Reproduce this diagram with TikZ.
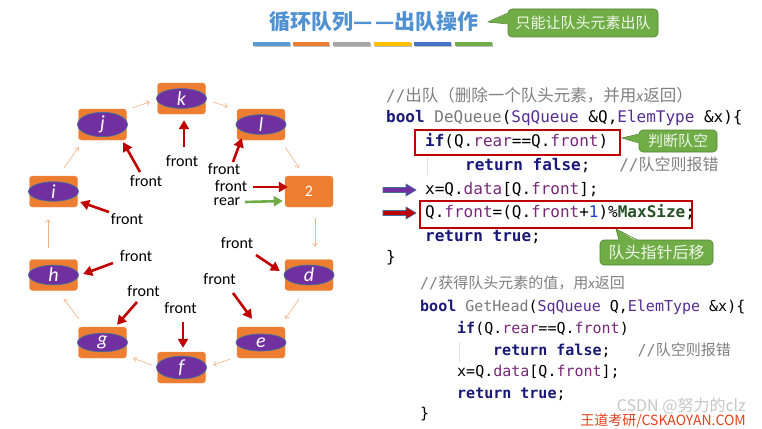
\documentclass[tikz,border=0pt]{standalone}
\usepackage{fontspec}
\setmainfont{Carlito}
\setmonofont{DejaVu Sans Mono}
\newfontfamily\cjk{Noto Sans CJK SC}
\usetikzlibrary{arrows.meta,shapes.geometric}
\definecolor{orangeq}{RGB}{237,125,49}
\definecolor{purpq}{RGB}{112,48,160}
\definecolor{ellb}{RGB}{65,113,156}
\definecolor{ringc}{RGB}{244,177,131}
\definecolor{darkred}{RGB}{192,0,0}
\definecolor{greenar}{RGB}{112,173,71}
\definecolor{titlec}{RGB}{79,145,210}
\definecolor{calf}{RGB}{112,173,71}
\definecolor{cald}{RGB}{84,130,53}
\definecolor{calt}{RGB}{242,248,236}
\definecolor{kwc}{RGB}{25,25,120}
\definecolor{fnc}{RGB}{120,120,120}
\definecolor{tyc}{RGB}{85,45,145}
\definecolor{fldc}{RGB}{120,40,120}
\definecolor{numc}{RGB}{30,60,220}
\definecolor{msc}{RGB}{40,80,40}
\definecolor{cmc}{RGB}{128,128,128}
\definecolor{wmc}{RGB}{225,65,30}
\definecolor{barA}{RGB}{91,155,213}
\definecolor{barB}{RGB}{237,125,49}
\definecolor{barC}{RGB}{165,165,165}
\definecolor{barD}{RGB}{255,192,0}
\definecolor{barE}{RGB}{68,114,196}
\definecolor{barF}{RGB}{112,173,71}
\newcommand\ckw[1]{{\color{kwc}\bfseries #1}}
\newcommand\cfn[1]{{\color{fnc}#1}}
\newcommand\cty[1]{{\color{tyc}#1}}
\newcommand\cfld[1]{{\color{fldc}#1}}
\newcommand\cnum[1]{{\color{numc}#1}}
\newcommand\cms[1]{{\color{msc}\bfseries #1}}
\begin{document}
\begin{tikzpicture}[x=1pt,y=-1pt,
  qbox/.style={fill=orangeq, draw=orangeq!85!white, rounded corners=3pt, minimum width=48pt, minimum height=31pt, inner sep=0},
  qell/.style={ellipse, fill=purpq, draw=ellb, line width=0.7pt, minimum width=50pt, minimum height=17pt, inner sep=0, text=white, font=\fontsize{20}{20}\selectfont\itshape},
  ring/.style={draw=ringc, line width=0.6pt, -{Straight Barb[length=3pt,width=5pt]}},
  farr/.style={draw=darkred, line width=2.6pt, -{Triangle[length=9pt,width=10pt]}},
  garr/.style={draw=greenar, line width=2.6pt, -{Triangle[length=9pt,width=10pt]}},
  lab/.style={font=\fontsize{16}{16}\selectfont, inner sep=0},
  code/.style={anchor=west, inner sep=0, font=\ttfamily\fontsize{16}{19}\selectfont, text height=12pt, text depth=3.5pt},
  codeb/.style={anchor=west, inner sep=0, font=\ttfamily\fontsize{15}{18}\selectfont, text height=11pt, text depth=3.5pt},
  redbox/.style={draw=darkred, line width=1.8pt, inner sep=0},
  callout/.style={fill=calf, draw=cald, line width=0.6pt, rounded corners=4pt, text=calt, inner sep=0, font=\cjk\fontsize{15}{15}\selectfont},
  guide/.style={draw=black!12, line width=0.8pt}
]
\useasboundingbox (0,0) rectangle (762,428);
\fill[white] (0,0) rectangle (762,428);

% title
\node[font=\cjk\bfseries\fontsize{21}{21}\selectfont, text=titlec] (title) at (374,22) {循环队列—\hspace{2pt}—出队操作};
\foreach \xa/\xb/\cc in {253/290/barA, 293/329/barB, 333/370/barC, 374/411/barD, 414/451/barE, 455/492/barF}{
  \fill[black!25] (\xa+1,43.5) rectangle (\xb+1,47.5);
  \fill[\cc] (\xa,42) rectangle (\xb,46);
}

% callout 1
\node[callout, minimum width=150pt, minimum height=28pt] (cA) at (583,23) {只能让队头元素出队};
\coordinate (cAtip) at (488,22);
\fill[calf] (cAtip) -- ([shift={(1.5,-10)}]cA.west) -- ([shift={(1.5,1)}]cA.west) -- cycle;
\draw[cald, line width=0.6pt] ([shift={(0,-10)}]cA.west) -- (cAtip) -- ([shift={(0,1)}]cA.west);

% queue boxes
\node[qbox] (k) at (181.5,98.5) {};  \node[qell] (ke) at (k) {k};
\node[qbox] (j) at (102.5,124.5) {}; \node[qell] (je) at (j) {j};
\node[qbox] (l) at (261,124.5) {};   \node[qell] (le) at (l) {l};
\node[qbox] (i) at (53.5,191.5) {};  \node[qell] (ie) at (i) {i};
\node[qbox, text=white, font=\fontsize{16}{16}\selectfont] (n2) at (309,191.5) {2};
\node[qbox] (h) at (53.5,275) {};    \node[qell] (he) at (h) {h};
\node[qbox] (d) at (309,275) {};     \node[qell] (de) at (d) {d};
\node[qbox] (g) at (102.5,342.5) {}; \node[qell] (ge) at (g) {g};
\node[qbox] (e) at (261,342.5) {};   \node[qell] (ee) at (e) {e};
\node[qbox] (f) at (181.5,367.5) {}; \node[qell] (fe) at (f) {f};

% ring arrows
\draw[ring] ([shift={(6,-1)}]j.north east) -- ([shift={(-7.5,3.5)}]k.west);
\draw[ring] ([shift={(7.5,3.5)}]k.east) -- ([shift={(-9,-2)}]l.north west);
\draw[ring] ([shift={(0,7)}]l.south east) -- ([shift={(-10,-8)}]n2.north);
\draw[ring] ([shift={(6,11)}]n2.south) -- ([shift={(6,-12.5)}]d.north);
\draw[ring] ([shift={(-10,8.5)}]d.south) -- ([shift={(0,-8)}]e.north east);
\draw[ring] ([shift={(-7,1)}]e.south west) -- ([shift={(7.5,-2.5)}]f.east);
\draw[ring] ([shift={(-5.5,-2.5)}]f.west) -- ([shift={(6.5,0)}]g.south east);
\draw[ring] ([shift={(0.5,-8)}]g.north west) -- ([shift={(10.5,8.5)}]h.south);
\draw[ring] ([shift={(-5.5,-11.5)}]h.north) -- ([shift={(-5.5,12)}]i.south);
\draw[ring] ([shift={(10.5,-8)}]i.north) -- ([shift={(0.5,7)}]j.south west);

% front labels and arrows
\node[lab] (fk) at (182,161) {front};
\node[lab] (fj) at (146,181) {front};
\node[lab] (fl) at (224,169) {front};
\node[lab] (f2) at (231,186) {front};
\node[lab] (rr) at (227,202) {rear};
\node[lab] (fi) at (127,219) {front};
\node[lab] (fh) at (136,256) {front};
\node[lab] (fd) at (237,243) {front};
\node[lab] (fg) at (143.5,291) {front};
\node[lab] (ff) at (180.5,308) {front};
\node[lab] (fE) at (219.5,279.5) {front};
\draw[farr] ([shift={(2,-14)}]fk.center) -- ([shift={(2.5,6)}]k.south);
\draw[farr] ([shift={(-6,-9)}]fj.center) -- ([shift={(-3.5,2)}]j.south east);
\draw[farr] ([shift={(9,-7)}]fl.center) -- ([shift={(5,-2)}]l.south west);
\draw[farr] ([shift={(22,1)}]f2.center) -- ([shift={(3,-4.5)}]n2.west);
\draw[garr] ([shift={(18,0)}]rr.center) -- ([shift={(-2,9.5)}]n2.west);
\draw[farr] ([shift={(-18,-7)}]fi.center) -- ([shift={(2.5,10.5)}]i.east);
\draw[farr] ([shift={(-23,7)}]fh.center) -- ([shift={(5.5,-1)}]h.east);
\draw[farr] ([shift={(19,12)}]fd.center) -- ([shift={(-5,-4)}]d.west);
\draw[farr] ([shift={(-6.5,11)}]fg.center) -- ([shift={(14.5,-2)}]g.north);
\draw[farr] ([shift={(2.5,14)}]ff.center) -- ([shift={(1.5,-4)}]f.north);
\draw[farr] ([shift={(13.5,13.5)}]fE.center) -- ([shift={(-9,-8)}]e.north);

% code block 1
\node[code] (c0) at (386,97) {\color{cmc}//{\cjk\fontsize{16.5}{19}\selectfont 出队（删除一个队头元素，并用}{\rmfamily\itshape x}{\cjk\fontsize{16.5}{19}\selectfont 返回）}};
\node[code] (c1) at (386,118) {\ckw{bool} \cfn{DeQueue}(\cty{SqQueue} \&Q,\cty{ElemType} \&x)\{};
\node[code] (c2) at (425,142) {\ckw{if}(Q.\cfld{rear}==Q.\cfld{front})};
\node[code] (c3) at (465,166) {\ckw{return} \ckw{false};\ \ \ {\color{cmc}//{\cjk 队空则报错}}};
\node[code] (c4) at (425,190) {x=Q.\cfld{data}[Q.\cfld{front}];};
\node[code] (c5) at (425,213) {Q.\cfld{front}=(Q.\cfld{front}+\cnum{1})\%\cms{MaxSize};};
\node[code] (c6) at (425,237) {\ckw{return} \ckw{true};};
\node[code] (c7) at (386,258) {\}};
\draw[guide] ([shift={(-38,-9)}]c3.west) -- ++(0,18);

% red boxes
\node[redbox, minimum width=205pt, minimum height=25pt] (r1) at (517.5,142.5) {};
\node[redbox, minimum width=272pt, minimum height=27pt] (r2) at (556,214.5) {};

% left block arrows
\draw[fill=purpq, draw=ellb, line width=0.6pt] ([shift={(-42,-2.5)}]c4.west) -- ++(23,0) -- ++(0,-3.5) -- ++(10,6) -- ++(-10,6) -- ++(0,-3.5) -- ++(-23,0) -- cycle;
\draw[fill=darkred, draw=ellb, line width=0.6pt] ([shift={(-42,-2.5)}]c5.west) -- ++(23,0) -- ++(0,-3.5) -- ++(10,6) -- ++(-10,6) -- ++(0,-3.5) -- ++(-23,0) -- cycle;

% callout 2
\node[callout, minimum width=78pt, minimum height=22pt] (cB) at (678,141) {判断队空};
\coordinate (cBtip) at (622,138);
\fill[calf] (cBtip) -- ([shift={(1.5,-7)}]cB.west) -- ([shift={(1.5,2)}]cB.west) -- cycle;
\draw[cald, line width=0.6pt] ([shift={(0,-7)}]cB.west) -- (cBtip) -- ([shift={(0,2)}]cB.west);

% callout 3
\node[callout, minimum width=113pt, minimum height=25pt, font=\cjk\fontsize{16}{16}\selectfont] (cC) at (656.5,252.5) {队头指针后移};
\coordinate (cCtip) at (616,229);
\fill[calf] (cCtip) -- ([shift={(-37.5,1.5)}]cC.north) -- ([shift={(-19.5,1.5)}]cC.north) -- cycle;
\draw[cald, line width=0.6pt] ([shift={(-37.5,0)}]cC.north) -- (cCtip) -- ([shift={(-19.5,0)}]cC.north);

% code block 2
\node[codeb] (d0) at (420,285) {\color{cmc}//{\cjk 获得队头元素的值，用}{\rmfamily\itshape x}{\cjk 返回}};
\node[codeb] (d1) at (420,308) {\ckw{bool} \cfn{GetHead}(\cty{SqQueue} Q,\cty{ElemType} \&x)\{};
\node[codeb] (d2) at (457,330) {\ckw{if}(Q.\cfld{rear}==Q.\cfld{front})};
\node[codeb] (d3) at (493,352) {\ckw{return} \ckw{false};\ \ \ {\color{cmc}//{\cjk 队空则报错}}};
\node[codeb] (d4) at (457,373) {x=Q.\cfld{data}[Q.\cfld{front}];};
\node[codeb] (d5) at (457,395) {\ckw{return} \ckw{true};};
\node[codeb] (d6) at (420,415) {\}};
\draw[guide] ([shift={(-34,-10)}]d3.west) -- ++(0,20);

% watermarks
\node[font=\cjk\fontsize{16}{16}\selectfont, text=black!22, anchor=east, inner sep=0] (wm1) at (746,406) {CSDN @努力的clz};
\node[font=\cjk\fontsize{14}{14}\selectfont, text=wmc, anchor=east, inner sep=0] (wm2) at (746,421) {王道考研/CSKAOYAN.COM};
\end{tikzpicture}
\end{document}
